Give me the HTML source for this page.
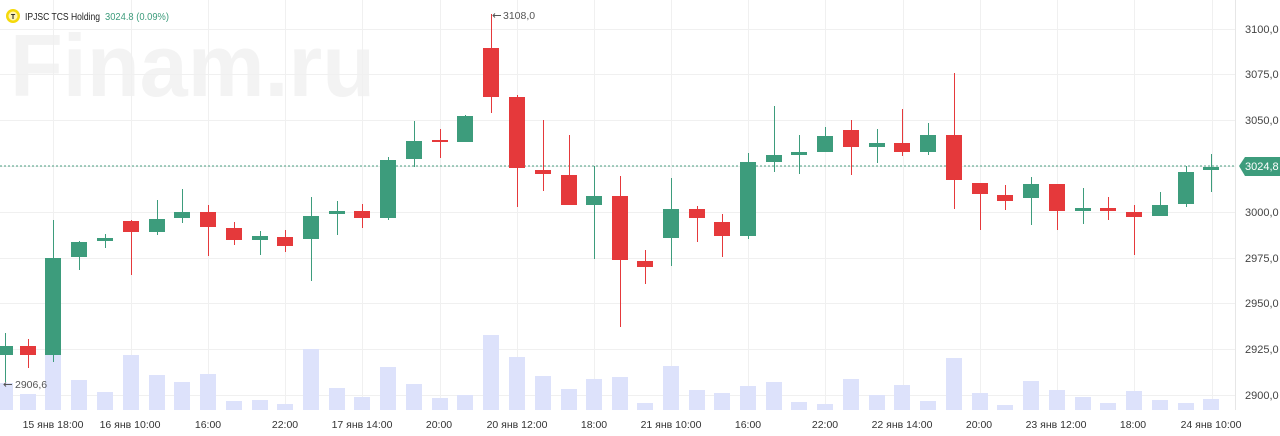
<!DOCTYPE html>
<html><head><meta charset="utf-8"><style>
html,body{margin:0;padding:0;background:#fff;width:1280px;height:436px;overflow:hidden}
svg{display:block;font-family:"Liberation Sans",sans-serif}
</style></head><body>
<svg id="s" width="1280" height="436" xmlns="http://www.w3.org/2000/svg">
<text x="10" y="96" font-size="88" font-weight="bold" fill="#f3f3f3" textLength="365" lengthAdjust="spacingAndGlyphs">Finam.ru</text>
<g id="grid" stroke="#f0f0f0" stroke-width="1"></g>
<g id="vol"></g>
<line x1="0" y1="166" x2="1236" y2="166" stroke="#4a9e80" stroke-width="1" stroke-dasharray="2,2"/>
<g id="cand"></g>
<line x1="1235.5" y1="0" x2="1235.5" y2="410" stroke="#e6e6e6"/>
<g font-size="11" fill="#444">
<text x="1245" y="33">3100,0</text>
<text x="1245" y="78">3075,0</text>
<text x="1245" y="124">3050,0</text>
<text x="1245" y="216">3000,0</text>
<text x="1245" y="262">2975,0</text>
<text x="1245" y="307">2950,0</text>
<text x="1245" y="353">2925,0</text>
<text x="1245" y="399">2900,0</text>
</g>
<path d="M1239,166 L1245,157 L1280,157 L1280,176 L1245,176 Z" fill="#3d9c7c"/>
<text x="1245" y="170" font-size="11" fill="#fff">3024,8</text>
<g font-size="10.5" fill="#333" text-anchor="middle">
<text x="53" y="428">15 янв 18:00</text>
<text x="130" y="428">16 янв 10:00</text>
<text x="208" y="428">16:00</text>
<text x="285" y="428">22:00</text>
<text x="362" y="428">17 янв 14:00</text>
<text x="439" y="428">20:00</text>
<text x="517" y="428">20 янв 12:00</text>
<text x="594" y="428">18:00</text>
<text x="671" y="428">21 янв 10:00</text>
<text x="748" y="428">16:00</text>
<text x="825" y="428">22:00</text>
<text x="902" y="428">22 янв 14:00</text>
<text x="979" y="428">20:00</text>
<text x="1056" y="428">23 янв 12:00</text>
<text x="1133" y="428">18:00</text>
<text x="1211" y="428">24 янв 10:00</text>
</g>
<g font-size="10.5" fill="#555">
<text x="15" y="388">2906,6</text>
<text x="503" y="19">3108,0</text>
</g>
<path d="M4,384.5 H12 M6,382.5 L4,384.5 L6,386.5 M493,15.5 H501 M495,13.5 L493,15.5 L495,17.5" stroke="#555" fill="none"/>
<circle cx="13" cy="16" r="7" fill="#f5d90a"/>
<circle cx="13" cy="16" r="4.5" fill="#fff4b0"/>
<text x="13" y="19" font-size="7" font-weight="bold" text-anchor="middle" fill="#222">T</text>
<text x="25" y="20" font-size="10.5" fill="#222" textLength="75" lengthAdjust="spacingAndGlyphs">IPJSC TCS Holding</text>
<text x="105" y="20" font-size="10.5" fill="#3d9c7c" textLength="64" lengthAdjust="spacingAndGlyphs">3024.8 (0.09%)</text>
</svg>
<script>
var g=document.getElementById('grid'),ns='http://www.w3.org/2000/svg';
function el(p,t,a){var e=document.createElementNS(ns,t);for(var k in a)e.setAttribute(k,a[k]);p.appendChild(e);return e;}
[29,74,120,166,212,258,303,349,395].forEach(function(y){el(g,'line',{x1:0,x2:1235,y1:y+.5,y2:y+.5});});
[53,131,208,285,362,440,517,594,671,748,825,903,980,1057,1134,1212].forEach(function(x){el(g,'line',{x1:x+.5,x2:x+.5,y1:0,y2:410});});
var C=[[5,'g',346,355,333,382],[28,'r',346,355,339,368],[53,'g',258,355,220,362],[79,'g',242,257,241,270],[105,'g',238,241,234,248],[131,'r',221,232,220,275],[157,'g',219,232,200,235],[182,'g',212,218,189,223],[208,'r',212,227,205,256],[234,'r',228,240,222,245],[260,'g',236,240,231,255],[285,'r',237,246,230,252],[311,'g',216,239,197,281],[337,'g',211,214,201,235],[362,'r',211,218,204,228],[388,'g',160,218,157,220],[414,'g',141,159,121,167],[440,'r',140,142,129,158],[465,'g',116,142,115,142],[491,'r',48,97,14,113],[517,'r',97,168,95,207],[543,'r',170,174,120,191],[569,'r',175,205,135,205],[594,'g',196,205,166,259],[620,'r',196,260,176,327],[645,'r',261,267,250,284],[671,'g',209,238,178,266],[697,'r',209,218,206,242],[722,'r',222,236,214,257],[748,'g',162,236,153,239],[774,'g',155,162,106,172],[799,'g',152,155,135,174],[825,'g',136,152,127,152],[851,'r',130,147,120,175],[877,'g',143,147,129,163],[902,'r',143,152,109,156],[928,'g',135,152,123,155],[954,'r',135,180,73,209],[980,'r',183,194,183,230],[1005,'r',195,201,185,210],[1031,'g',184,198,177,225],[1057,'r',184,211,184,230],[1083,'g',208,211,188,224],[1108,'r',208,211,197,220],[1134,'r',212,217,205,255],[1160,'g',205,216,192,216],[1186,'g',172,204,166,207],[1211,'g',167,170,154,192]];
var V=[383,394,320,380,392,355,375,382,374,401,400,404,349,388,397,367,384,398,395,335,357,376,389,379,377,403,366,390,393,386,382,402,404,379,395,385,401,358,393,405,381,390,397,403,391,400,403,399];
var vg=document.getElementById('vol'),cg=document.getElementById('cand');
C.forEach(function(c,i){var x=c[0],xl=Math.max(0,x-8),wr=x+8-xl;
el(vg,'rect',{x:xl,y:V[i],width:wr,height:410-V[i],fill:'#dde2fb'});
var col=c[1]=='g'?'#3d9c7c':'#e5393b';
el(cg,'line',{x1:x+.5,x2:x+.5,y1:c[4],y2:c[5],stroke:col,'stroke-width':1});
el(cg,'rect',{x:xl,y:c[2],width:wr,height:Math.max(2,c[3]-c[2]),fill:col});
});
</script>
</body></html>
